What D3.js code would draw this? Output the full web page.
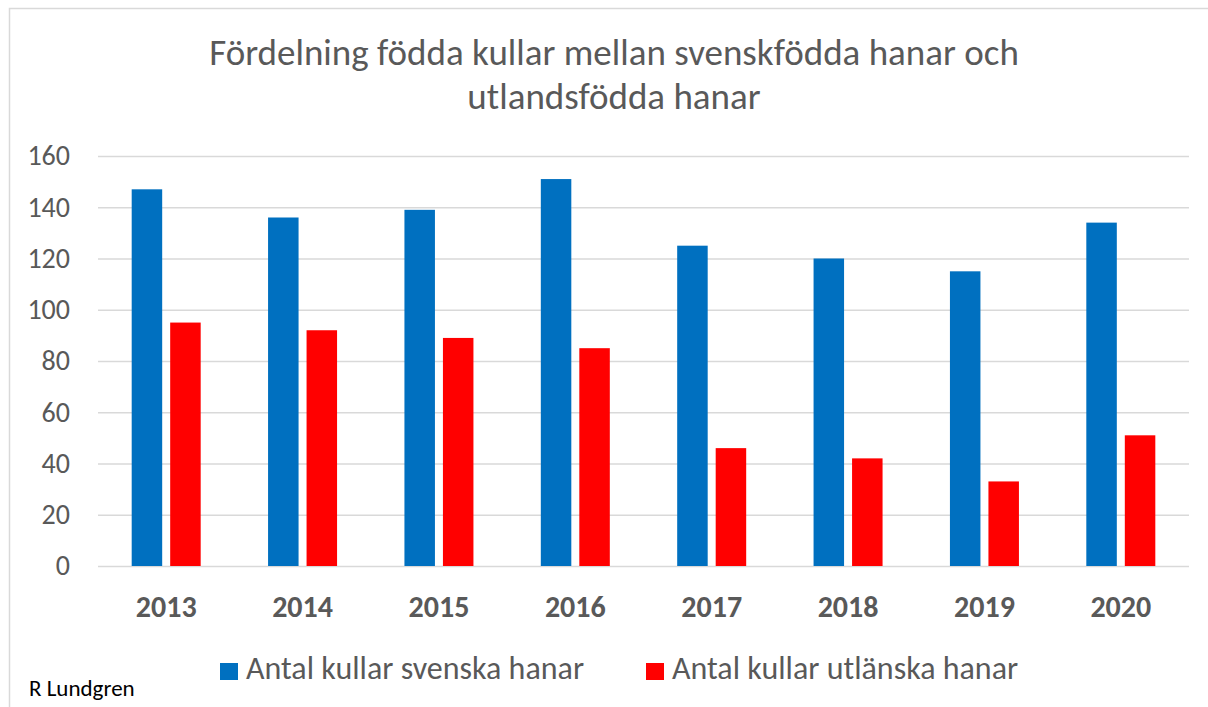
<!DOCTYPE html>
<html>
<head>
<meta charset="utf-8">
<script src="https://cdn.jsdelivr.net/npm/d3@7"></script>
<style>
  body { margin: 0; background: #fff; }
  svg text { font-family: Calibri, Carlito, "Open Sans", sans-serif; fill: #595959; }
</style>
</head>
<body>
<div id="chart"></div>
<script>
// Data
const years = ["2013", "2014", "2015", "2016", "2017", "2018", "2019", "2020"];
const svenska = [147, 136, 139, 151, 125, 120, 115, 134];
const utlanska = [95, 92, 89, 85, 46, 42, 33, 51];
const seriesNames = ["Antal kullar svenska hanar", "Antal kullar utlänska hanar"];
const colors = ["#0070C0", "#FF0000"];
const yTicks = [0, 20, 40, 60, 80, 100, 120, 140, 160];

const width = 1208, height = 707;
const margin = { top: 156, right: 19, bottom: 141, left: 98 };
const chartWidth = width - margin.left - margin.right;
const chartHeight = height - margin.top - margin.bottom;

const svg = d3.select("#chart").append("svg")
    .attr("width", width)
    .attr("height", height);

// ramen runt diagrammet
svg.append("rect")
    .attr("x", 9.5).attr("y", 8.5)
    .attr("width", width).attr("height", height)
    .attr("fill", "none")
    .attr("stroke", "#d9d9d9")
    .attr("stroke-width", 1.5);

// Titel
const title = svg.append("text")
    .attr("text-anchor", "middle")
    .style("font-size", "37px")
    .style("font-weight", 300);
title.append("tspan").attr("x", 614).attr("y", 65)
    .text("Fördelning födda kullar mellan svenskfödda hanar och");
title.append("tspan").attr("x", 614).attr("y", 109)
    .text("utlandsfödda hanar");

const g = svg.append("g")
    .attr("transform", `translate(${margin.left},${margin.top})`);

// Skalor
const x = d3.scaleBand()
    .domain(years)
    .range([0, chartWidth])
    .paddingInner(0.5)
    .paddingOuter(0.25);

const y = d3.scaleLinear()
    .domain([0, 160])
    .range([chartHeight, 0]);

// Rutnät
g.append("g")
    .call(d3.axisLeft(y).tickValues(yTicks).tickSize(-chartWidth).tickFormat(""))
    .call(s => s.select(".domain").remove())
    .selectAll("line")
    .attr("stroke", "#d9d9d9")
    .attr("stroke-width", 1.5);

// Y-axel etiketter
g.append("g")
    .call(d3.axisLeft(y).tickValues(yTicks).tickSize(0).tickPadding(28))
    .call(s => s.select(".domain").remove())
    .selectAll("text")
    .style("font-size", "28px")
    .attr("fill", "#595959");

// X-axel etiketter
g.append("g")
    .attr("transform", `translate(0,${chartHeight})`)
    .call(d3.axisBottom(x).tickSize(0).tickPadding(30))
    .call(s => s.select(".domain").remove())
    .selectAll("text")
    .style("font-size", "30px")
    .style("font-weight", "bold")
    .attr("fill", "#595959");

// Staplar
const barW = 30.5, gap = 8;
const series = [svenska, utlanska];
series.forEach((vals, si) => {
    g.selectAll(".bar" + si)
        .data(vals)
        .enter()
        .append("rect")
        .attr("x", (d, i) => x(years[i]) + x.bandwidth() / 2 + (si === 0 ? -gap / 2 - barW : gap / 2))
        .attr("y", d => y(d))
        .attr("width", barW)
        .attr("height", d => chartHeight - y(d))
        .attr("fill", colors[si]);
});

// Legend
const legendX = [220, 646];
seriesNames.forEach((name, i) => {
    const lg = svg.append("g").attr("transform", `translate(${legendX[i]},663)`);
    lg.append("rect").attr("width", 18).attr("height", 17).attr("fill", colors[i]);
    lg.append("text")
        .attr("x", 26).attr("y", 16)
        .style("font-size", "32px")
        .text(name);
});

// Upphovsman
svg.append("text")
    .attr("x", 29).attr("y", 696)
    .style("font-size", "23px")
    .style("fill", "#000")
    .text("R Lundgren");
</script>
</body>
</html>
